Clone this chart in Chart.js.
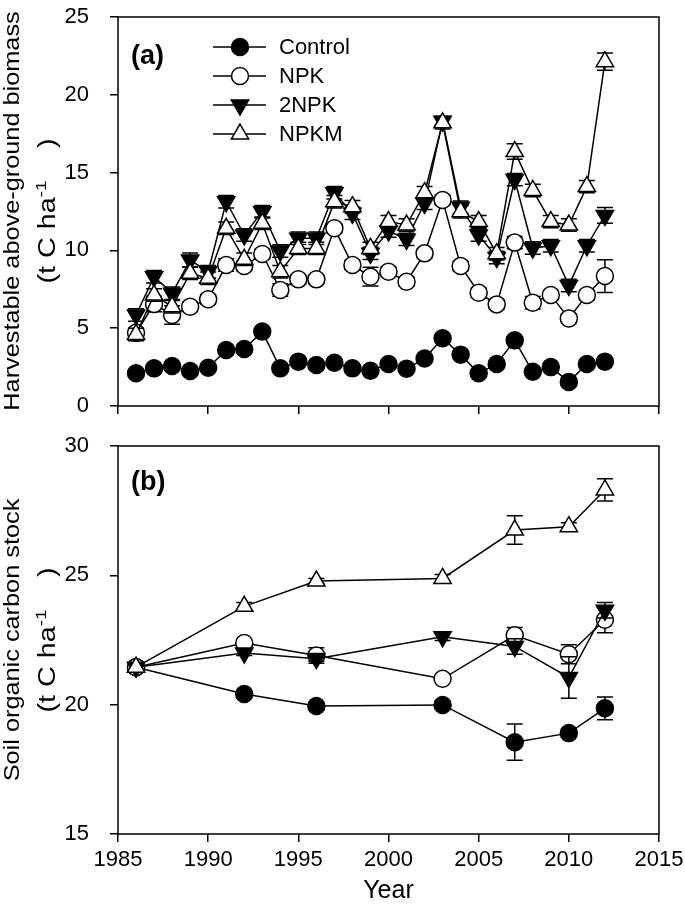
<!DOCTYPE html>
<html><head><meta charset="utf-8">
<script src="https://cdn.jsdelivr.net/npm/chart.js@4"></script>
<style>
body{margin:0;background:#fff;width:685px;height:914px;overflow:hidden;position:relative;font-family:"Liberation Sans",Arial,sans-serif}
#ca{position:absolute;left:0;top:0}
#cb{position:absolute;left:0;top:428px}
</style>
</head><body>
<canvas id="ca" width="685" height="428"></canvas>
<canvas id="cb" width="685" height="486"></canvas>
<script>
// ---------- data ----------
const seriesNames = ['Control', 'NPK', '2NPK', 'NPKM'];

// Panel (a): harvestable above-ground biomass
const yearsA = [1986,1987,1988,1989,1990,1991,1992,1993,1994,1995,1996,1997,1998,1999,2000,2001,2002,2003,2004,2005,2006,2007,2008,2009,2010,2011,2012];
const controlA = [2.1,2.42,2.57,2.25,2.46,3.6,3.66,4.78,2.42,2.85,2.63,2.78,2.42,2.27,2.7,2.4,3.05,4.35,3.3,2.1,2.7,4.22,2.2,2.5,1.55,2.7,2.85];
const npkA     = [4.7,6.55,5.85,6.38,6.86,9.06,9.0,9.77,7.46,8.14,8.14,11.42,9.06,8.31,8.63,7.99,9.81,13.24,9.0,7.28,6.53,10.5,6.64,7.13,5.63,7.13,8.35];
const npk2A    = [5.85,8.31,7.24,9.38,8.63,13.13,10.99,12.49,9.96,10.78,10.78,13.71,12.38,9.81,11.25,10.71,13.03,18.3,12.77,10.99,9.55,14.55,10.15,10.3,7.75,10.3,12.25];
const npkmA    = [4.6,7.13,6.38,8.53,8.21,11.42,9.43,11.74,8.63,10.13,10.13,13.13,12.81,10.13,11.85,11.63,13.71,18.2,12.49,11.85,9.79,16.35,13.85,11.85,11.63,14.1,22.13];
const controlErrA = [0.15,0.15,0.15,0.15,0.15,0.15,0.15,0.15,0.15,0.15,0.15,0.15,0.15,0.15,0.15,0.15,0.15,0.2,0.15,0.15,0.15,0.2,0.15,0.15,0.15,0.15,0.15];
const npkErrA     = [0.3,0.5,0.6,0.3,0.3,0.4,0.3,0.3,0.4,0.3,0.3,0.3,0.3,0.6,0.3,0.3,0.3,0.3,0.3,0.3,0.3,0.4,0.4,0.3,0.3,0.3,1.05];
const npk2ErrA    = [0.4,0.4,0.4,0.45,0.4,0.4,0.4,0.4,0.4,0.4,0.4,0.4,0.4,0.4,0.4,0.4,0.4,0.3,0.4,0.4,0.4,0.4,0.4,0.4,0.4,0.4,0.5];
const npkmErrA    = [0.4,0.4,0.4,0.4,0.4,0.4,0.4,0.4,0.4,0.4,0.4,0.4,0.4,0.4,0.4,0.4,0.4,0.4,0.4,0.4,0.4,0.5,0.4,0.4,0.4,0.4,0.55];

// Panel (b): soil organic carbon stock
const yearsB = [1986,1992,1996,2003,2007,2010,2012];
const controlB = [21.45,20.41,19.95,19.99,18.55,18.9,19.86];
const npkB     = [21.45,22.38,21.9,21.0,22.68,21.95,23.28];
const npk2B    = [21.45,22.0,21.78,22.63,22.25,21.05,23.65];
const npkmB    = [21.45,23.8,24.78,24.88,26.75,26.88,28.3];
const controlErrB = [0,0.1,0.1,0.15,0.7,0.15,0.44];
const npkErrB     = [0,0.1,0.3,0.1,0.3,0.37,0.5];
const npk2ErrB    = [0,0.1,0.1,0.15,0.3,0.8,0.3];
const npkmErrB    = [0,0.15,0.1,0.15,0.55,0.15,0.43];

// axis ranges / ticks
const xMin = 1985, xMax = 2015, xStep = 5;
const yAMin = 0, yAMax = 25, yAStep = 5;
const yBMin = 15, yBMax = 30, yBStep = 5;

// ---------- styles ----------
const FONT = '"Liberation Sans", Arial, sans-serif';
const styles = [
  {pointStyle:'circle', rotation:0, radius:8.5, fill:'#000', order:3},
  {pointStyle:'circle', rotation:0, radius:8.5, fill:'#fff', order:2},
  {pointStyle:'triangle', rotation:180, radius:10, fill:'#000', order:1},
  {pointStyle:'triangle', rotation:0, radius:10, fill:'#fff', order:0}
];

function makeDatasets(years, valueLists, errLists){
  return valueLists.map((vals, i) => ({
    label: seriesNames[i],
    data: years.map((yr, j) => ({x: yr, y: vals[j]})),
    errs: errLists[i],
    borderColor: '#000',
    borderWidth: 1.5,
    pointStyle: styles[i].pointStyle,
    rotation: styles[i].rotation,
    pointRadius: styles[i].radius,
    pointBackgroundColor: styles[i].fill,
    pointBorderColor: '#000',
    pointBorderWidth: 1.5,
    fill: false,
    tension: 0,
    order: styles[i].order
  }));
}

// error bars drawn just before each dataset, so its own markers sit on top
const errorBarPlugin = {
  id: 'errbars',
  beforeDatasetDraw(chart, args){
    const ds = chart.data.datasets[args.index];
    const ctx = chart.ctx, xs = chart.scales.x, ys = chart.scales.y;
    ctx.save();
    ctx.strokeStyle = '#000'; ctx.lineWidth = 1.5;
    ds.data.forEach((p, j) => {
      const e = ds.errs[j]; if (!e) return;
      const px = xs.getPixelForValue(p.x);
      const y1 = ys.getPixelForValue(p.y + e), y2 = ys.getPixelForValue(p.y - e);
      ctx.beginPath();
      ctx.moveTo(px, y1); ctx.lineTo(px, y2);
      ctx.moveTo(px - 8, y1); ctx.lineTo(px + 8, y1);
      ctx.moveTo(px - 8, y2); ctx.lineTo(px + 8, y2);
      ctx.stroke();
    });
    ctx.restore();
  }
};

const framePlugin = {
  id: 'frame',
  afterDraw(chart){
    const a = chart.chartArea, ctx = chart.ctx;
    ctx.save(); ctx.strokeStyle = '#000'; ctx.lineWidth = 1.5;
    ctx.strokeRect(a.left, a.top, a.right - a.left, a.bottom - a.top);
    ctx.restore();
  }
};

function drawYTitle(ctx, line1, cx1, cx2, cy){
  const s = 1.15;
  ctx.save();
  ctx.fillStyle = '#000';
  ctx.textBaseline = 'alphabetic';
  ctx.save();
  ctx.translate(cx1, cy); ctx.rotate(-Math.PI/2); ctx.scale(s, 1);
  ctx.font = '22px ' + FONT; ctx.textAlign = 'center';
  ctx.fillText(line1, 0, 0);
  ctx.restore();
  ctx.save();
  ctx.translate(cx2, cy); ctx.rotate(-Math.PI/2); ctx.scale(1.25, 1);
  ctx.textAlign = 'left';
  ctx.font = '23px ' + FONT;
  const a = '(t C ha';
  const wa = ctx.measureText(a).width;
  ctx.font = '15px ' + FONT;
  const wsup = ctx.measureText('-1').width;
  ctx.font = '23px ' + FONT;
  const wc = ctx.measureText(')').width;
  const gap = 26;
  const total = wa + wsup + gap + wc;
  let x = -total/2;
  ctx.fillText(a, x, 0); x += wa;
  ctx.font = '15px ' + FONT; ctx.fillText('-1', x, -9); x += wsup + gap;
  ctx.font = '23px ' + FONT; ctx.fillText(')', x, 0);
  ctx.restore();
  ctx.restore();
}

function scalesFor(yMin, yMax, yStep, showX, xHeight){
  return {
    x: {
      type: 'linear', min: xMin, max: xMax,
      afterBuildTicks(scale){ const t=[]; for(let v=xMin; v<=xMax; v+=xStep) t.push({value:v}); scale.ticks = t; },
      afterFit(scale){ scale.height = xHeight; scale.paddingLeft = 0; scale.paddingRight = 0; },
      border: {display:false},
      grid: {drawOnChartArea:false, drawTicks:true, tickLength:8, color:'#000', lineWidth:1.5},
      ticks: {color:'#000', font:{family:FONT, size:22}, padding:5, maxRotation:0,
              callback: v => showX ? String(v) : ''},
      title: showX ? {display:true, text:'Year', color:'#000', font:{family:FONT, size:25}, padding:{top:2, bottom:8}} : {display:false}
    },
    y: {
      type: 'linear', min: yMin, max: yMax,
      afterBuildTicks(scale){ const t=[]; for(let v=yMin; v<=yMax; v+=yStep) t.push({value:v}); scale.ticks = t; },
      afterFit(scale){ scale.width = 118; scale.paddingTop = 0; scale.paddingBottom = 0; },
      border: {display:false},
      grid: {drawOnChartArea:false, drawTicks:true, tickLength:8, color:'#000', lineWidth:1.5},
      ticks: {color:'#000', font:{family:FONT, size:22}, padding:21, callback: v => String(v)}
    }
  };
}

const legendPlugin = {
  id: 'innerLegend',
  afterDraw(chart){
    const ctx = chart.ctx;
    const rowY = [47, 76, 105, 134];
    ctx.save();
    seriesNames.forEach((name, i) => {
      const y = rowY[i];
      ctx.strokeStyle = '#000'; ctx.lineWidth = 1.5;
      ctx.beginPath(); ctx.moveTo(213, y); ctx.lineTo(266, y); ctx.stroke();
      ctx.fillStyle = styles[i].fill; ctx.strokeStyle = '#000'; ctx.lineWidth = 1.5;
      Chart.helpers.drawPoint(ctx, {pointStyle: styles[i].pointStyle, rotation: styles[i].rotation, radius: styles[i].radius, borderWidth: 1.5}, 240, y);
      ctx.fillStyle = '#000'; ctx.font = '22px ' + FONT; ctx.textBaseline = 'middle'; ctx.textAlign = 'left';
      ctx.fillText(name, 279, y + 1);
    });
    ctx.restore();
  }
};

function labelPlugin(id, letter, x, y, t1, cy){
  return {
    id: id,
    afterDraw(chart){
      const ctx = chart.ctx;
      ctx.save();
      ctx.fillStyle = '#000'; ctx.font = 'bold 27px ' + FONT; ctx.textBaseline = 'alphabetic'; ctx.textAlign = 'left';
      ctx.fillText(letter, x, y);
      ctx.restore();
      drawYTitle(ctx, t1, 19, 55, cy);
    }
  };
}

Chart.defaults.animation = false;

new Chart(document.getElementById('ca'), {
  type: 'line',
  data: { datasets: makeDatasets(yearsA, [controlA, npkA, npk2A, npkmA], [controlErrA, npkErrA, npk2ErrA, npkmErrA]) },
  options: {
    responsive: false, animation: false, devicePixelRatio: 1,
    layout: {padding: {top:17, right:26, left:0, bottom:0}},
    plugins: {legend:{display:false}, tooltip:{enabled:false}},
    scales: scalesFor(yAMin, yAMax, yAStep, false, 22)
  },
  plugins: [errorBarPlugin, framePlugin, legendPlugin, labelPlugin('labA', '(a)', 131, 64, 'Harvestable above-ground biomass', 211)]
});

new Chart(document.getElementById('cb'), {
  type: 'line',
  data: { datasets: makeDatasets(yearsB, [controlB, npkB, npk2B, npkmB], [controlErrB, npkErrB, npk2ErrB, npkmErrB]) },
  options: {
    responsive: false, animation: false, devicePixelRatio: 1,
    layout: {padding: {top:18, right:26, left:0, bottom:0}},
    plugins: {legend:{display:false}, tooltip:{enabled:false}},
    scales: scalesFor(yBMin, yBMax, yBStep, true, 80)
  },
  plugins: [errorBarPlugin, framePlugin, labelPlugin('labB', '(b)', 131, 62, 'Soil organic carbon stock', 212)]
});
</script>
</body></html>
